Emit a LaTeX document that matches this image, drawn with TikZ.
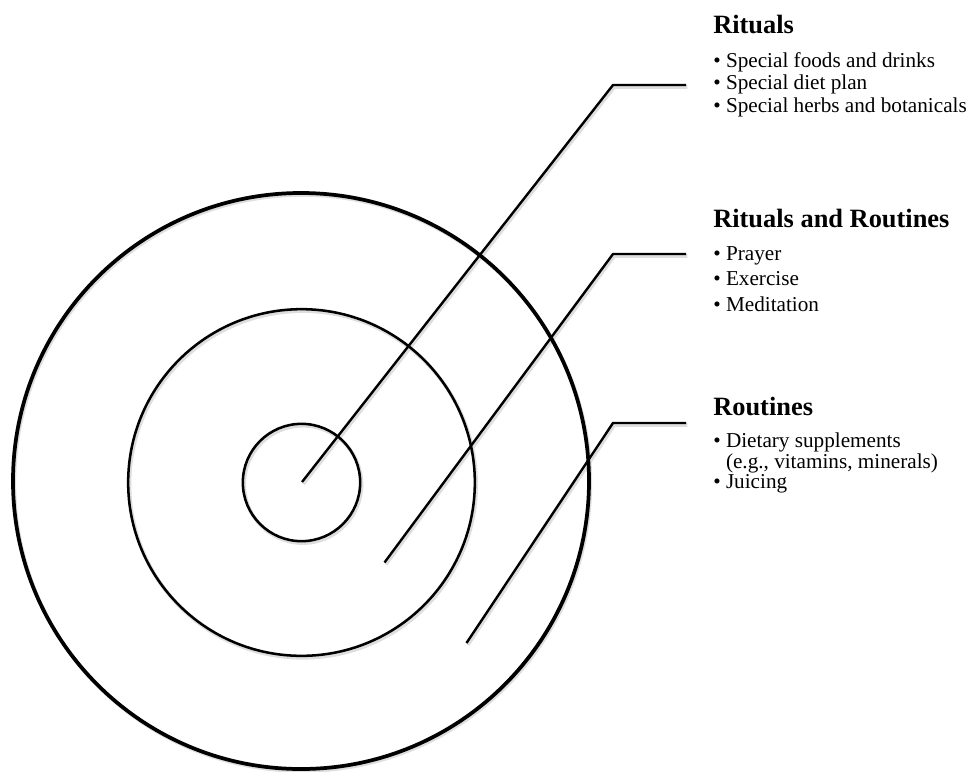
\documentclass[tikz,border=0pt]{standalone}
\usepackage{fontspec}
\setmainfont{Liberation Serif}
\usetikzlibrary{positioning}

\tikzset{
  ring/.style={draw=black, line width=1.9pt},
  bigring/.style={draw=black, line width=2.8pt},
  ghost/.style={draw=black!13, line width=2.8pt, shift={(1.3,1.9)}},
  leader/.style={draw=black, line width=1.8pt, line join=miter},
  head/.style={anchor=base west, inner sep=0pt, font=\fontsize{19.8}{22}\selectfont\bfseries},
  items/.style={inner sep=0pt, align=left, font=\fontsize{15.9}{#1}\selectfont},
}
\newcommand{\bl}{\textbullet}

\begin{document}
\begin{tikzpicture}[x=0.75pt, y=-0.75pt]
   \useasboundingbox (0,0) rectangle (969,771);
   % soft shadows
   \draw[ghost] (301,481) circle[radius=216pt];
   \draw[ghost] (301.5,482.5) circle[radius=130pt];
   \draw[ghost] (301.5,482.5) circle[radius=44pt];
   \draw[ghost] (302,482) -- (613,85) -- (686,85);
   \draw[ghost] (384.5,562.5) -- (613,254) -- (686,254);
   \draw[ghost] (466.5,643) -- (613,423) -- (686,423);
   % the three rings
   \draw[bigring] (301,481) circle[radius=216pt];
   \draw[ring] (301.5,482.5) circle[radius=130pt];
   \draw[ring] (301.5,482.5) circle[radius=44pt];

   % leader points
   \coordinate (p1) at (302,482);
   \coordinate (k1) at (613,85);
   \coordinate (e1) at (686,85);
   \coordinate (p2) at (384.5,562.5);
   \coordinate (k2) at (613,254);
   \coordinate (e2) at (686,254);
   \coordinate (p3) at (466.5,643);
   \coordinate (k3) at (613,423);
   \coordinate (e3) at (686,423);
   \draw[leader] (p1) -- (k1) -- (e1);
   \draw[leader] (p2) -- (k2) -- (e2);
   \draw[leader] (p3) -- (k3) -- (e3);

   % labels
   \node[head] (rituals) at (713,33) {Rituals};
   \node[items=16.9pt, below=13.6pt of rituals.base west, anchor=north west] (ritlist)
     {\begin{tabular}{@{}l@{\hspace{0.25em}}l@{}}
      \bl & Special foods and drinks\\
      \bl & Special diet plan\\
      \bl & Special herbs and botanicals
      \end{tabular}};
   \node[head] (both) at (713,227) {Rituals and Routines};
   \node[items=19.1pt, below=11.4pt of both.base west, anchor=north west] (bothlist)
     {\begin{tabular}{@{}l@{\hspace{0.25em}}l@{}}
      \bl & Prayer\\
      \bl & Exercise\\
      \bl & Meditation
      \end{tabular}};
   \node[head] (routines) at (713,415) {Routines};
   \node[items=15pt, below=13.5pt of routines.base west, anchor=north west] (roulist)
     {\begin{tabular}{@{}l@{\hspace{0.25em}}l@{}}
      \bl & Dietary supplements\\
          & (e.g., vitamins, minerals)\\
      \bl & Juicing
      \end{tabular}};
\end{tikzpicture}
\end{document}
